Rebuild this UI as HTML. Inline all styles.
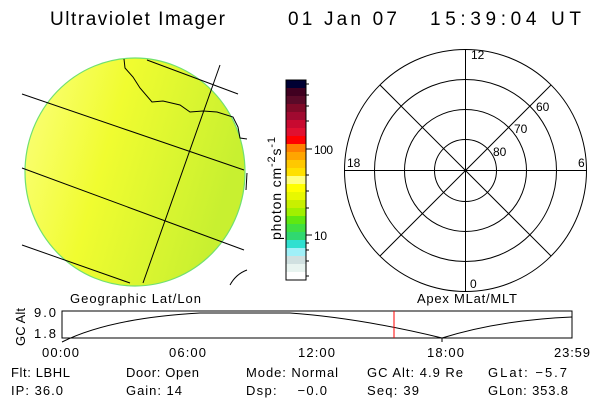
<!DOCTYPE html>
<html><head><meta charset="utf-8"><style>
body{margin:0;background:#fff;}
svg{display:block;font-family:"Liberation Sans",sans-serif;}
</style></head><body>
<svg width="600" height="400" viewBox="0 0 600 400">
<defs>
<linearGradient id="dg" x1="0" y1="0" x2="1" y2="0.3">
<stop offset="0" stop-color="#fcff80"/>
<stop offset="0.45" stop-color="#f0fc30"/>
<stop offset="1" stop-color="#c8f030"/>
</linearGradient>
<clipPath id="dc"><rect x="0" y="40" width="260" height="247"/></clipPath>
</defs>
<rect width="600" height="400" fill="#fff"/>
<g font-size="19" fill="#000">
<text x="50" y="25" textLength="175" lengthAdjust="spacing">Ultraviolet Imager</text>
<text x="288" y="25" textLength="109" lengthAdjust="spacing">01 Jan 07</text>
<text x="430" y="25" textLength="151" lengthAdjust="spacing">15:39:04 UT</text>
</g>
<g clip-path="url(#dc)">
<ellipse cx="135" cy="172" rx="110" ry="114" fill="url(#dg)" stroke="#70e070" stroke-width="1.2"/>
</g>
<g fill="none" stroke="#000" stroke-width="1">
<line x1="22" y1="94" x2="244" y2="170"/>
<line x1="22" y1="168" x2="244" y2="250"/>
<line x1="22" y1="245" x2="130" y2="283"/>
<line x1="147" y1="60" x2="238" y2="94"/>
<line x1="220" y1="65" x2="143" y2="283"/>
<polyline points="124,59 125,68 133,77 140,88 152,102 163,101 180,105 190,112 203,111 217,112 233,117 238,127 240,138 247,139"/>
<path d="M247,173 L246,190"/>
<path d="M230,285 Q236,274 247,270"/>
</g>
<g>
<rect x="286" y="80" width="20" height="8" fill="#000033"/>
<rect x="286" y="88" width="20" height="8" fill="#400020"/>
<rect x="286" y="96" width="20" height="8" fill="#5a0a28"/>
<rect x="286" y="104" width="20" height="8" fill="#800a28"/>
<rect x="286" y="112" width="20" height="8" fill="#a00a30"/>
<rect x="286" y="120" width="20" height="8" fill="#c80a30"/>
<rect x="286" y="128" width="20" height="8" fill="#e01030"/>
<rect x="286" y="136" width="20" height="8" fill="#ff0000"/>
<rect x="286" y="144" width="20" height="8" fill="#ff7f00"/>
<rect x="286" y="152" width="20" height="8" fill="#ffa500"/>
<rect x="286" y="160" width="20" height="8" fill="#ffc800"/>
<rect x="286" y="168" width="20" height="8" fill="#ffe000"/>
<rect x="286" y="176" width="20" height="8" fill="#ffff80"/>
<rect x="286" y="184" width="20" height="8" fill="#ffff00"/>
<rect x="286" y="192" width="20" height="8" fill="#e8f800"/>
<rect x="286" y="200" width="20" height="8" fill="#c8f000"/>
<rect x="286" y="208" width="20" height="8" fill="#a0f000"/>
<rect x="286" y="216" width="20" height="8" fill="#60e810"/>
<rect x="286" y="224" width="20" height="8" fill="#40e040"/>
<rect x="286" y="232" width="20" height="8" fill="#30d870"/>
<rect x="286" y="240" width="20" height="8" fill="#30e0d0"/>
<rect x="286" y="248" width="20" height="8" fill="#a0f0f8"/>
<rect x="286" y="256" width="20" height="8" fill="#d0e0e0"/>
<rect x="286" y="264" width="20" height="8" fill="#e8f4f0"/>
<rect x="286" y="272" width="20" height="8" fill="#ffffff"/>
<rect x="286" y="80" width="20" height="200" fill="none" stroke="#000"/>
<g stroke="#000">
<line x1="306" y1="149" x2="312" y2="149"/><line x1="306" y1="235" x2="312" y2="235"/>
<line x1="306" y1="84" x2="309" y2="84"/><line x1="306" y1="95" x2="309" y2="95"/><line x1="306" y1="106" x2="309" y2="106"/><line x1="306" y1="121" x2="309" y2="121"/><line x1="306" y1="175" x2="309" y2="175"/><line x1="306" y1="191" x2="309" y2="191"/><line x1="306" y1="208" x2="309" y2="208"/><line x1="306" y1="261" x2="309" y2="261"/><line x1="306" y1="250" x2="309" y2="250"/><line x1="306" y1="243" x2="309" y2="243"/><line x1="306" y1="276" x2="309" y2="276"/>
</g>
<text x="314" y="154" font-size="12" textLength="19" lengthAdjust="spacing">100</text>
<text x="314" y="240" font-size="12" textLength="13" lengthAdjust="spacing">10</text>
<text transform="translate(281,240) rotate(-90)" font-size="14" textLength="103" lengthAdjust="spacing">photon cm<tspan dy="-6" font-size="11">-2</tspan><tspan dy="6">s</tspan><tspan dy="-6" font-size="11">-1</tspan></text>
</g>
<g fill="none" stroke="#000" stroke-width="1">
<circle cx="465.5" cy="170.5" r="121"/>
<circle cx="465.5" cy="170.5" r="91"/>
<circle cx="465.5" cy="170.5" r="61"/>
<circle cx="465.5" cy="170.5" r="31"/>
<line x1="344.5" y1="170.5" x2="586.5" y2="170.5"/>
<line x1="465.5" y1="49.5" x2="465.5" y2="291.5"/>
<line x1="380" y1="85" x2="551" y2="256"/>
<line x1="380" y1="256" x2="551" y2="85"/>
</g>
<g font-size="12">
<text x="471" y="59">12</text>
<text x="470" y="288">0</text>
<text x="347" y="167">18</text>
<text x="578" y="167">6</text>
<text x="536" y="111">60</text>
<text x="514" y="133">70</text>
<text x="493" y="156">80</text>
</g>
<g font-size="13">
<text x="70" y="303" textLength="131" lengthAdjust="spacing">Geographic Lat/Lon</text>
<text x="417" y="303" textLength="100" lengthAdjust="spacing">Apex MLat/MLT</text>
<text x="34" y="317" textLength="22" lengthAdjust="spacing">9.0</text>
<text x="34" y="338" textLength="22" lengthAdjust="spacing">1.8</text>
<text transform="translate(25,346) rotate(-90)" textLength="38" lengthAdjust="spacing">GC Alt</text>
</g>
<rect x="62" y="311" width="510" height="27" fill="none" stroke="#000"/>
<path d="M62,342 Q110,318 200,313 L290,313 Q360,318 442,338 Q500,320 572,317" fill="none" stroke="#000"/>
<line x1="394" y1="311" x2="394" y2="338" stroke="#f00"/>
<line x1="442" y1="338" x2="442" y2="342" stroke="#000"/>
<g font-size="13">
<text x="42" y="357" textLength="37" lengthAdjust="spacing">00:00</text>
<text x="169" y="357" textLength="37" lengthAdjust="spacing">06:00</text>
<text x="298" y="357" textLength="37" lengthAdjust="spacing">12:00</text>
<text x="427" y="357" textLength="37" lengthAdjust="spacing">18:00</text>
<text x="554" y="357" textLength="36" lengthAdjust="spacing">23:59</text>
<text x="11" y="377" textLength="59" lengthAdjust="spacing">Flt: LBHL</text>
<text x="126" y="377" textLength="73" lengthAdjust="spacing">Door: Open</text>
<text x="246" y="377" textLength="92" lengthAdjust="spacing">Mode: Normal</text>
<text x="367" y="377" textLength="96" lengthAdjust="spacing">GC Alt: 4.9 Re</text>
<text x="488" y="377" textLength="79" lengthAdjust="spacing">GLat:  −5.7</text>
<text x="11" y="395" textLength="52" lengthAdjust="spacing">IP: 36.0</text>
<text x="126" y="395" textLength="56" lengthAdjust="spacing">Gain: 14</text>
<text x="246" y="395" textLength="81" lengthAdjust="spacing" xml:space="preserve">Dsp:    −0.0</text>
<text x="367" y="395" textLength="52" lengthAdjust="spacing">Seq: 39</text>
<text x="488" y="395" textLength="80" lengthAdjust="spacing">GLon: 353.8</text>
</g>
</svg>
</body></html>
